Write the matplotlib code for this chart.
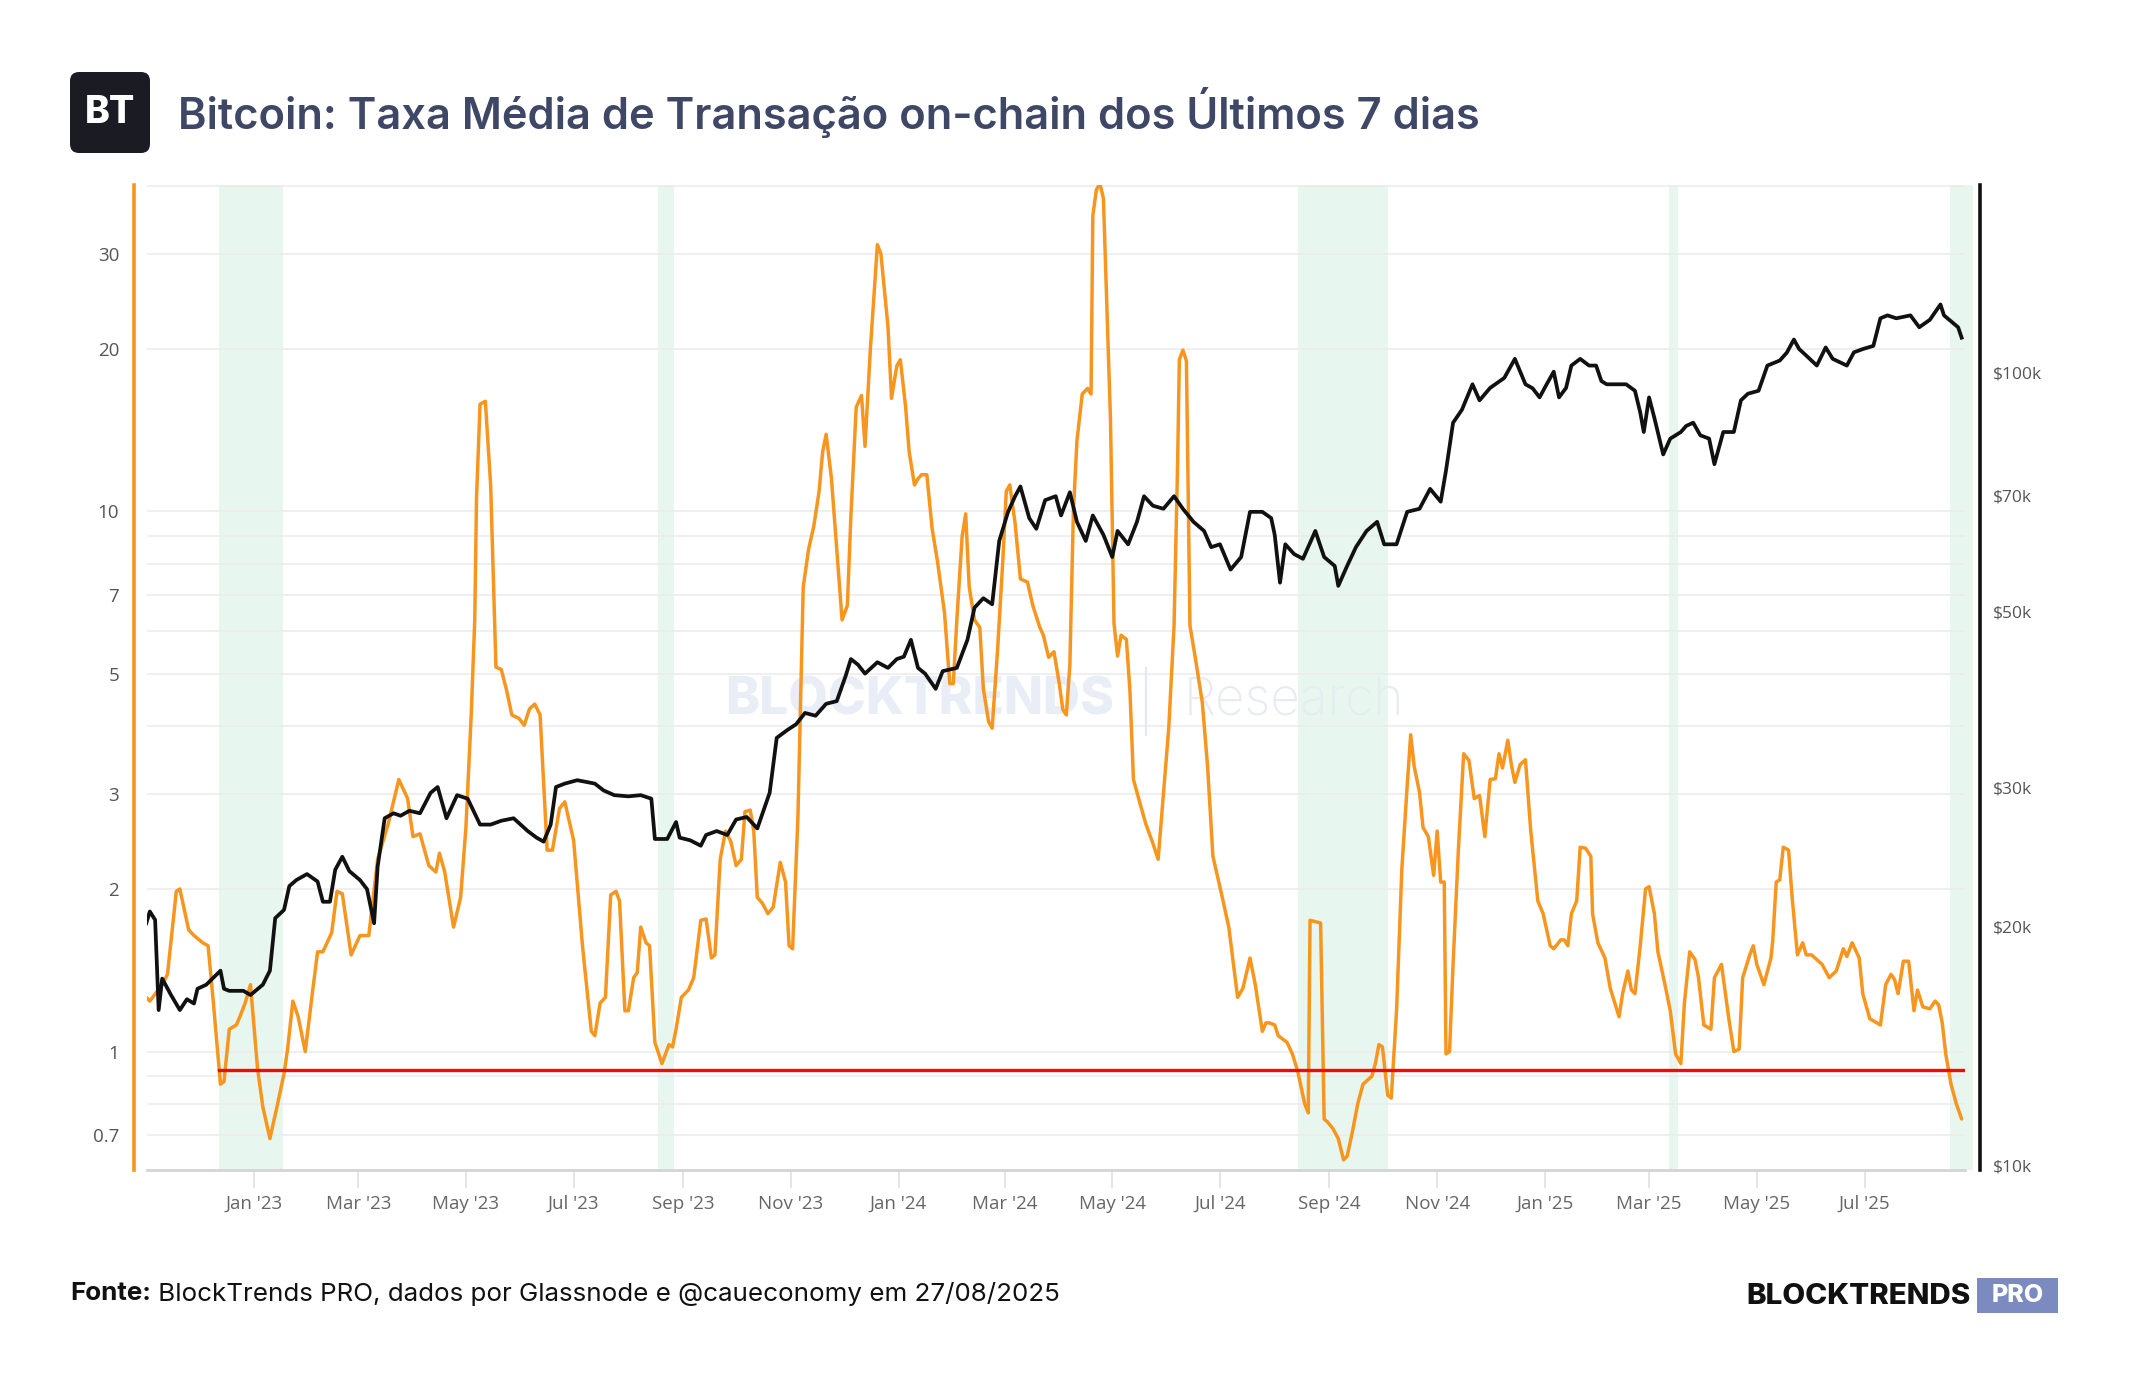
import matplotlib
matplotlib.use("Agg")
import matplotlib.pyplot as plt
from matplotlib.ticker import FixedLocator, FuncFormatter, NullLocator
from matplotlib.patches import FancyBboxPatch, Rectangle
from matplotlib.transforms import IdentityTransform
from matplotlib.lines import Line2D
import numpy as np
import pandas as pd

plt.rcParams['font.family'] = ['Inter', 'DejaVu Sans']

# ---------------- data ----------------
BASE_DATE = "2023-01-01"   # day offsets below are relative to this date

fee_day = [
    -61, -59, -52, -49, -44, -42, -37, -34, -29, -26,
    -23, -19, -17, -14, -10, -8, -5, -2, 2, 5,
    9, 13, 17, 19, 22, 25, 29, 33, 36, 39,
    44, 47, 50, 55, 60, 65, 70, 76, 82, 87,
    90, 94, 99, 103, 105, 108, 113, 117, 120, 123,
    125, 126, 128, 131, 134, 137, 140, 143, 146, 150,
    153, 156, 159, 162, 166, 169, 173, 176, 181, 186,
    191, 193, 196, 199, 202, 205, 207, 210, 212, 215,
    217, 219, 222, 224, 227, 231, 235, 237, 239, 242,
    246, 249, 253, 256, 259, 261, 264, 267, 270, 273,
    276, 278, 281, 283, 285, 288, 291, 294, 298, 301,
    303, 305, 308, 311, 314, 317, 320, 322, 324, 327,
    330, 333, 336, 338, 341, 344, 346, 349, 353, 355,
    359, 361, 364, 366, 369, 371, 374, 376, 378, 381,
    384, 387, 391, 394, 396, 398, 401, 403, 405, 408,
    411, 413, 416, 418, 421, 424, 426, 428, 431, 434,
    438, 441, 445, 447, 450, 453, 456, 458, 460, 462,
    464, 466, 469, 472, 474, 475, 477, 479, 481, 482,
    485, 487, 489, 491, 494, 496, 498, 502, 505, 509,
    512, 515, 518, 521, 523, 524, 526, 528, 530, 533,
    537, 540, 543, 548, 552, 557, 560, 564, 567, 571,
    573, 575, 578, 580, 585, 588, 591, 595, 597, 598,
    604, 606, 608, 611, 614, 617, 619, 622, 625, 628,
    633, 635, 637, 639, 642, 644, 647, 650, 653, 655,
    657, 660, 662, 665, 668, 670, 672, 674, 675, 677,
    679, 682, 685, 688, 691, 694, 697, 700, 703, 705,
    707, 710, 712, 714, 717, 720, 723, 727, 730, 734,
    736, 740, 742, 744, 746, 749, 751, 754, 757, 758,
    761, 765, 768, 773, 775, 778, 780, 782, 785, 788,
    790, 793, 795, 799, 802, 805, 808, 810, 813, 816,
    818, 821, 825, 827, 831, 835, 838, 841, 843, 847,
    849, 851, 855, 859, 860, 862, 864, 866, 869, 871,
    874, 877, 879, 882, 888, 892, 896, 900, 902, 905,
    909, 911, 915, 921, 924, 927, 929, 931, 934, 937,
    940, 942, 945, 949, 952, 954, 956, 958, 961, 964,
    967,
]
fee_usd = [
    1.26, 1.24, 1.33, 1.39, 1.98, 2.0, 1.68, 1.64, 1.59, 1.57,
    1.23, 0.87, 0.88, 1.10, 1.12, 1.16, 1.23, 1.33, 0.93, 0.79,
    0.69, 0.79, 0.91, 1.01, 1.24, 1.16, 1.0, 1.28, 1.53, 1.53,
    1.66, 1.98, 1.96, 1.51, 1.64, 1.64, 2.27, 2.64, 3.19, 2.94,
    2.5, 2.53, 2.21, 2.15, 2.33, 2.15, 1.70, 1.93, 2.6, 4.2,
    6.3, 10.6, 15.8, 16.0, 11.2, 5.15, 5.1, 4.67, 4.2, 4.14,
    4.02, 4.31, 4.4, 4.2, 2.36, 2.36, 2.82, 2.9, 2.46, 1.57,
    1.09, 1.07, 1.23, 1.26, 1.95, 1.98, 1.9, 1.19, 1.19, 1.37,
    1.4, 1.70, 1.59, 1.57, 1.04, 0.95, 1.03, 1.02, 1.10, 1.26,
    1.30, 1.37, 1.75, 1.76, 1.49, 1.51, 2.27, 2.56, 2.45, 2.21,
    2.27, 2.78, 2.8, 2.56, 1.93, 1.88, 1.8, 1.85, 2.24, 2.06,
    1.57, 1.55, 2.71, 7.24, 8.5, 9.4, 10.9, 12.9, 13.9, 11.5,
    8.5, 6.3, 6.7, 9.8, 15.6, 16.4, 13.2, 19.9, 31.2, 30.0,
    22.0, 16.2, 18.6, 19.1, 15.6, 12.9, 11.2, 11.5, 11.7, 11.7,
    9.3, 8.1, 6.5, 4.8, 4.8, 6.3, 9.0, 9.9, 7.25, 6.3,
    6.1, 4.7, 4.08, 3.97, 5.5, 8.07, 10.9, 11.2, 9.5, 7.5,
    7.4, 6.7, 6.1, 5.9, 5.37, 5.5, 4.8, 4.3, 4.2, 5.2,
    10.0, 13.5, 16.5, 16.9, 16.5, 35.3, 39.4, 40.5, 38.0, 30.0,
    14.8, 6.2, 5.4, 5.9, 5.8, 4.67, 3.19, 2.86, 2.64, 2.43,
    2.27, 3.0, 3.97, 6.15, 12.2, 19.1, 19.9, 19.0, 6.15, 5.37,
    4.43, 3.37, 2.30, 1.95, 1.70, 1.26, 1.31, 1.49, 1.33, 1.09,
    1.13, 1.13, 1.12, 1.07, 1.04, 0.99, 0.92, 0.80, 0.77, 1.75,
    1.73, 0.75, 0.74, 0.72, 0.69, 0.63, 0.64, 0.71, 0.80, 0.87,
    0.90, 0.95, 1.03, 1.02, 0.83, 0.82, 1.19, 2.18, 3.1, 3.86,
    3.37, 3.02, 2.6, 2.5, 2.12, 2.56, 2.06, 2.06, 0.99, 1.0,
    1.45, 2.36, 3.56, 3.46, 2.94, 2.98, 2.5, 3.19, 3.2, 3.56,
    3.35, 3.77, 3.4, 3.15, 3.4, 3.47, 2.56, 1.9, 1.80, 1.57,
    1.55, 1.61, 1.61, 1.57, 1.80, 1.9, 2.39, 2.38, 2.30, 1.80,
    1.59, 1.49, 1.31, 1.16, 1.28, 1.41, 1.3, 1.28, 1.57, 2.0,
    2.02, 1.80, 1.53, 1.33, 1.19, 0.99, 0.95, 1.23, 1.53, 1.48,
    1.37, 1.12, 1.10, 1.37, 1.45, 1.16, 1.0, 1.01, 1.37, 1.51,
    1.57, 1.45, 1.33, 1.49, 1.6, 2.06, 2.08, 2.39, 2.36, 1.93,
    1.51, 1.59, 1.51, 1.51, 1.45, 1.37, 1.41, 1.55, 1.5, 1.59,
    1.49, 1.28, 1.15, 1.12, 1.33, 1.39, 1.36, 1.28, 1.47, 1.47,
    1.19, 1.30, 1.21, 1.2, 1.24, 1.22, 1.13, 0.99, 0.87, 0.80,
    0.75,
]

price_day = [
    -61, -59, -56, -54, -52, -47, -42, -38, -34, -32,
    -27, -19, -17, -14, -6, -2, 5, 9, 12, 17,
    20, 24, 30, 36, 39, 43, 46, 50, 54, 60,
    64, 68, 70, 74, 79, 83, 88, 94, 100, 104,
    109, 115, 121, 128, 134, 140, 147, 155, 160, 164,
    168, 171, 176, 183, 193, 198, 204, 212, 219, 225,
    227, 234, 239, 241, 247, 253, 256, 262, 268, 273,
    279, 285, 288, 292, 296, 302, 307, 312, 318, 324,
    330, 335, 338, 342, 346, 353, 359, 364, 368, 372,
    376, 380, 386, 390, 398, 404, 408, 413, 418, 422,
    427, 431, 434, 439, 443, 448, 454, 457, 462, 466,
    471, 475, 481, 486, 489, 495, 500, 504, 509, 515,
    521, 526, 532, 538, 542, 547, 553, 559, 564, 571,
    576, 578, 581, 584, 589, 594, 601, 606, 612, 614,
    619, 624, 630, 636, 640, 647, 653, 660, 666, 672,
    675, 679, 684, 690, 694, 700, 708, 714, 720, 724,
    728, 732, 736, 739, 743, 746, 751, 756, 760, 763,
    766, 772, 777, 782, 785, 787, 790, 793, 798, 802,
    808, 811, 815, 819, 824, 827, 832, 838, 842, 846,
    852, 857, 864, 868, 872, 875, 879, 885, 890, 894,
    902, 906, 911, 917, 921, 925, 930, 938, 943, 949,
    955, 957, 962, 965, 967,
]
price_usd_k = [
    20.2, 20.9, 20.4, 15.7, 17.2, 16.4, 15.7, 16.2, 16.0, 16.7,
    16.9, 17.6, 16.7, 16.6, 16.6, 16.4, 16.9, 17.6, 20.5, 21.0,
    22.5, 22.9, 23.3, 22.8, 21.5, 21.5, 23.6, 24.5, 23.5, 22.9,
    22.3, 20.2, 23.8, 27.4, 27.8, 27.6, 28.0, 27.8, 29.5, 30.0,
    27.4, 29.3, 29.0, 26.9, 26.9, 27.2, 27.4, 26.4, 25.9, 25.6,
    26.9, 30.0, 30.3, 30.6, 30.3, 29.7, 29.3, 29.2, 29.3, 29.0,
    25.8, 25.8, 27.1, 25.9, 25.7, 25.3, 26.1, 26.4, 26.1, 27.3,
    27.5, 26.6, 27.8, 29.5, 34.6, 35.4, 36.0, 37.2, 36.9, 38.2,
    38.5, 41.4, 43.5, 42.8, 41.7, 43.1, 42.4, 43.5, 43.8, 46.0,
    42.4, 41.7, 39.9, 42.0, 42.4, 46.0, 50.5, 51.9, 51.0, 61.3,
    66.7, 69.8, 71.8, 65.5, 63.5, 69.0, 69.8, 66.0, 70.6, 64.8,
    61.3, 66.0, 62.4, 58.5, 63.1, 60.7, 64.8, 69.8, 67.9, 67.3,
    69.8, 67.3, 64.8, 63.1, 60.2, 60.7, 56.4, 58.5, 66.7, 66.7,
    65.5, 62.4, 54.3, 60.7, 59.0, 58.2, 63.1, 58.5, 57.0, 53.8,
    57.0, 60.2, 63.1, 64.8, 60.7, 60.7, 66.7, 67.3, 71.3, 68.7,
    75.2, 86.4, 89.7, 96.6, 92.2, 95.6, 98.4, 104.0, 96.6, 95.5,
    93.0, 96.6, 100.2, 93.0, 95.6, 102.0, 104.0, 102.0, 102.0, 97.5,
    96.6, 96.6, 96.6, 94.8, 89.0, 84.1, 93.0, 87.6, 78.8, 82.5,
    84.1, 85.6, 86.4, 83.3, 82.5, 76.6, 84.1, 84.1, 92.2, 94.0,
    94.8, 102.0, 103.5, 105.9, 110.0, 107.0, 105.0, 102.0, 107.5, 104.0,
    102.0, 106.0, 107.0, 108.0, 117.0, 118.0, 117.0, 118.0, 114.0, 116.5,
    121.8, 118.0, 115.5, 114.0, 110.6,
]

# shaded periods (start day, end day) relative to BASE_DATE
band_start_day = [-20, 228.6, 591, 801.5, 960.2]
band_end_day = [16.4, 237.8, 642, 806.2, 973.4]

support_level = 0.925          # red horizontal line (USD)
support_start_day = -20

fee_ticks = [0.7, 1, 2, 3, 5, 7, 10, 20, 30]
fee_grid = [0.7, 0.8, 0.9, 1, 2, 3, 4, 5, 6, 7, 8, 9, 10, 20, 30, 40]
price_ticks = [10000, 20000, 30000, 50000, 70000, 100000]
price_tick_labels = ["$10k", "$20k", "$30k", "$50k", "$70k", "$100k"]
month_ticks = ["2023-01-01", "2023-03-01", "2023-05-01", "2023-07-01", "2023-09-01",
               "2023-11-01", "2024-01-01", "2024-03-01", "2024-05-01", "2024-07-01",
               "2024-09-01", "2024-11-01", "2025-01-01", "2025-03-01", "2025-05-01",
               "2025-07-01"]
month_labels = ["Jan '23", "Mar '23", "May '23", "Jul '23", "Sep '23", "Nov '23",
                "Jan '24", "Mar '24", "May '24", "Jul '24", "Sep '24", "Nov '24",
                "Jan '25", "Mar '25", "May '25", "Jul '25"]

title = "Bitcoin: Taxa Média de Transação on-chain dos Últimos 7 dias"
source_bold = "Fonte:"
source_text = " BlockTrends PRO, dados por Glassnode e @caueconomy em 27/08/2025"

# ---------------- helpers ----------------
base = pd.Timestamp(BASE_DATE)


def day_to_date(d):
    return base + pd.to_timedelta(np.asarray(d, dtype=float), unit="D")


fee_dates = day_to_date(fee_day)
price_dates = day_to_date(price_day)
price_usd = np.array(price_usd_k) * 1000.0

W, H = 2144, 1400
fig = plt.figure(figsize=(W / 100, H / 100), dpi=100)
fig.patch.set_facecolor("white")

ORANGE = "#F7961F"
GRID = "#ECECEC"

ax_l, ax_r, ax_t, ax_b = 147, 1965, 184.6, 1170
ax = fig.add_axes([ax_l / W, 1 - ax_b / H, (ax_r - ax_l) / W, (ax_b - ax_t) / H])
ax.set_facecolor("none")
ax.set_yscale("log")
ax.set_ylim(0.6035, 40.3)
ax.set_xlim(day_to_date(-60.6), day_to_date(968.9))

# shaded bands
for s, e in zip(band_start_day, band_end_day):
    sp = ax.axvspan(day_to_date(s), day_to_date(e), color="#E7F6EE", lw=0, zorder=0.2)
    sp.set_clip_on(False)

# grid lines (left axis values)
ax.yaxis.set_major_locator(FixedLocator(fee_grid))
ax.yaxis.set_minor_locator(NullLocator())
ax.yaxis.set_major_formatter(FuncFormatter(
    lambda v, _: ("%g" % v) if any(abs(v - t) < 1e-9 for t in fee_ticks) else ""))
ax.grid(axis="y", color=GRID, lw=1.2, zorder=0.3)
ax.set_axisbelow(True)

# lines
ax.plot(fee_dates, fee_usd, color=ORANGE, lw=2.5, zorder=3,
        solid_joinstyle="round", solid_capstyle="round")
ax.plot(day_to_date([support_start_day, 968.9]), [support_level, support_level],
        color="#F00A0A", lw=2.4, zorder=4)

# axes styling
for s in ["top", "right"]:
    ax.spines[s].set_visible(False)
ax.spines["bottom"].set_color("#D4D4D4")
ax.spines["bottom"].set_linewidth(2.0)
ax.spines["left"].set_color(ORANGE)
ax.spines["left"].set_linewidth(2.6)
ax.spines["left"].set_position(("outward", 9.4))
ax.tick_params(axis="y", which="both", length=0, pad=10.6, labelsize=13.5,
               labelcolor="#555555")
ax.set_xticks(day_to_date([(pd.Timestamp(m) - base).days for m in month_ticks]))
ax.set_xticklabels(month_labels)
ax.tick_params(axis="x", which="major", length=13, width=1.2, color="#E0E0E0",
               pad=5, labelsize=13.5, labelcolor="#666666", direction="out")
ax.tick_params(axis="x", which="minor", length=0)
for lab in ax.get_xticklabels() + ax.get_yticklabels():
    lab.set_fontfamily(["Open Sans", "DejaVu Sans"])

# right axis: BTC price
ax2 = ax.twinx()
ax2.set_yscale("log")
ax2.set_ylim(9867, 172500)
ax2.plot(price_dates, price_usd, color="#111111", lw=2.7, zorder=5,
         solid_joinstyle="round")
for s in ["top", "left", "bottom"]:
    ax2.spines[s].set_visible(False)
ax2.spines["right"].set_color("#111111")
ax2.spines["right"].set_linewidth(2.6)
ax2.spines["right"].set_position(("outward", 10.8))
ax2.yaxis.set_major_locator(FixedLocator(price_ticks))
ax2.yaxis.set_minor_locator(NullLocator())
ax2.set_yticklabels(price_tick_labels)
ax2.tick_params(axis="y", which="both", length=0, pad=9.5, labelsize=12.5,
                labelcolor="#555555")
for lab in ax2.get_yticklabels():
    lab.set_fontfamily(["Open Sans", "DejaVu Sans"])

# watermark (pixel positions, drawn behind the lines)
ident = IdentityTransform()
ax.text(725, H - 701, "BLOCKTRENDS", transform=ident, fontsize=37, fontweight="heavy",
        color="#E9EEF6", va="center", ha="left", zorder=1)
ax.add_line(Line2D([1146, 1146], [H - 735, H - 668], transform=ident,
                   color="#E3E9F1", lw=1.5, zorder=1))
ax.text(1184, H - 701, "Research", transform=ident, fontsize=37, fontweight="light",
        color="#E6ECF1", va="center", ha="left", zorder=1)

# header
logo = FancyBboxPatch((70, H - 153), 80, 81, boxstyle="round,pad=0,rounding_size=9",
                      transform=ident, facecolor="#1B1C23", edgecolor="none")
fig.add_artist(logo)
fig.text(110 / W, 1 - 113 / H, "BT", ha="center", va="center", color="white",
         fontsize=27, fontweight="heavy")
fig.text(178 / W, 1 - 113 / H, title, ha="left", va="center", color="#3F4767",
         fontsize=31.3, fontweight="semibold")

# footer
renderer = fig.canvas.get_renderer()
t1 = fig.text(70 / W, 1 - 1294 / H, source_bold, ha="left", va="center",
              color="#111111", fontsize=18.7, fontweight="bold")
bb = t1.get_window_extent(renderer)
fig.text(bb.x1 / W, 1 - 1294 / H, source_text, ha="left", va="center",
         color="#111111", fontsize=18.7)

fig.text(1971 / W, 1 - 1296 / H, "BLOCKTRENDS", ha="right", va="center",
         color="#111111", fontsize=21.3, fontweight="heavy")
fig.add_artist(Rectangle((1977, H - 1313), 81, 35, transform=ident,
                         facecolor="#7B8BC0", edgecolor="none"))
fig.text(2017.5 / W, 1 - 1296 / H, "PRO", ha="center", va="center",
         color="white", fontsize=18, fontweight="heavy")

fig.savefig("out.png", dpi=100, facecolor="white")
